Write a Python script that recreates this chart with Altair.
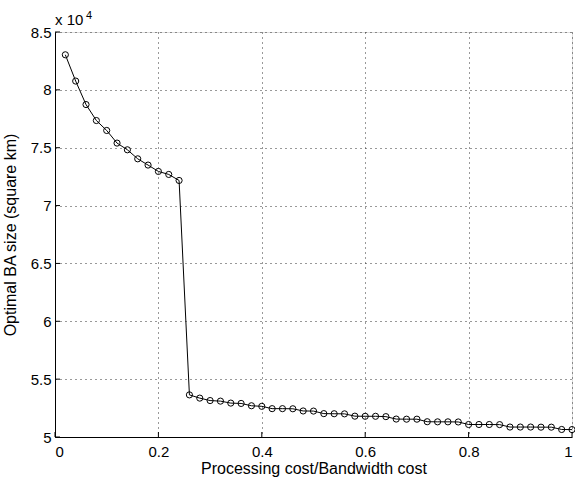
import altair as alt
import pandas as pd

# Data (values in square km)
ratio = [0.02, 0.04, 0.06, 0.08, 0.10, 0.12, 0.14, 0.16, 0.18, 0.20,
         0.22, 0.24, 0.26, 0.28, 0.30, 0.32, 0.34, 0.36, 0.38, 0.40,
         0.42, 0.44, 0.46, 0.48, 0.50, 0.52, 0.54, 0.56, 0.58, 0.60,
         0.62, 0.64, 0.66, 0.68, 0.70, 0.72, 0.74, 0.76, 0.78, 0.80,
         0.82, 0.84, 0.86, 0.88, 0.90, 0.92, 0.94, 0.96, 0.98, 1.00]
ba_size = [83030, 80760, 78730, 77350, 76490, 75400, 74820, 74040, 73500, 72950,
           72690, 72170, 53640, 53360, 53150, 53100, 52930, 52900, 52700, 52650,
           52450, 52450, 52440, 52250, 52240, 52020, 52010, 52000, 51800, 51790,
           51790, 51760, 51550, 51540, 51540, 51320, 51310, 51310, 51300, 51080,
           51080, 51080, 51070, 50860, 50860, 50860, 50850, 50850, 50650, 50640]

x_ticks = [0, 0.2, 0.4, 0.6, 0.8, 1.0]
y_ticks = [50000, 55000, 60000, 65000, 70000, 75000, 80000, 85000]

df = pd.DataFrame({"ratio": ratio, "size": ba_size})
xt = pd.DataFrame({"v": x_ticks})
yt = pd.DataFrame({"v": y_ticks})

FONT = "Liberation Sans"
W, H = 517, 405

xscale = alt.Scale(domain=[0, 1], nice=False, zero=False)
yscale = alt.Scale(domain=[50000, 85000], nice=False, zero=False)

base = alt.Chart(df)

line = base.mark_line(color="black", strokeWidth=1).encode(
    x=alt.X("ratio:Q", scale=xscale,
            axis=alt.Axis(values=x_ticks, title="Processing cost/Bandwidth cost",
                          labelExpr="format(datum.value, '~g')",
                          grid=True, gridDash=[1, 4], gridColor="#333", gridWidth=1,
                          domainColor="black", domainWidth=1, ticks=False,
                          labelPadding=7, labelFontSize=15, labelFont=FONT, labelColor="black",
                          titleFont=FONT, titleFontSize=16, titleFontWeight="normal",
                          titleColor="black", titleY=36, titleBaseline="alphabetic")),
    y=alt.Y("size:Q", scale=yscale,
            axis=alt.Axis(values=y_ticks, title="Optimal BA size (square km)",
                          labelExpr="format(datum.value / 10000, '~g')",
                          grid=True, gridDash=[1, 4], gridColor="#333", gridWidth=1,
                          domainColor="black", domainWidth=1, ticks=False,
                          labelPadding=4, labelFontSize=15, labelFont=FONT, labelColor="black",
                          titleFont=FONT, titleFontSize=16, titleFontWeight="normal",
                          titleColor="black", titleX=-40, titleBaseline="alphabetic")),
)

points = base.mark_point(shape="circle", filled=False, color="black",
                         strokeWidth=1, size=38, opacity=1).encode(
    x=alt.X("ratio:Q", scale=xscale),
    y=alt.Y("size:Q", scale=yscale),
)

xticks_marks = alt.Chart(xt).mark_rule(color="black", strokeWidth=1).encode(
    x=alt.X("v:Q", scale=xscale),
    y=alt.value(H),
    y2=alt.value(H - 5),
)
yticks_marks = alt.Chart(yt).mark_rule(color="black", strokeWidth=1).encode(
    y=alt.Y("v:Q", scale=yscale),
    x=alt.value(0),
    x2=alt.value(5),
)

exp_text = alt.Chart(pd.DataFrame({"t": ["x 10"]})).mark_text(
    font=FONT, fontSize=15, align="left", baseline="alphabetic", color="black"
).encode(x=alt.value(0), y=alt.value(-7), text="t:N")
exp_sup = alt.Chart(pd.DataFrame({"t": ["4"]})).mark_text(
    font=FONT, fontSize=11, align="left", baseline="alphabetic", color="black"
).encode(x=alt.value(31), y=alt.value(-13), text="t:N")

chart = alt.layer(line, points, xticks_marks, yticks_marks, exp_text, exp_sup).properties(
    width=W, height=H,
    autosize=alt.AutoSizeParams(type="none"),
    padding={"left": 55, "top": 32, "right": 3, "bottom": 44},
).configure_view(stroke=None).configure(background="white")

chart.save("out.html", embed_options={"renderer": "svg", "actions": False})
